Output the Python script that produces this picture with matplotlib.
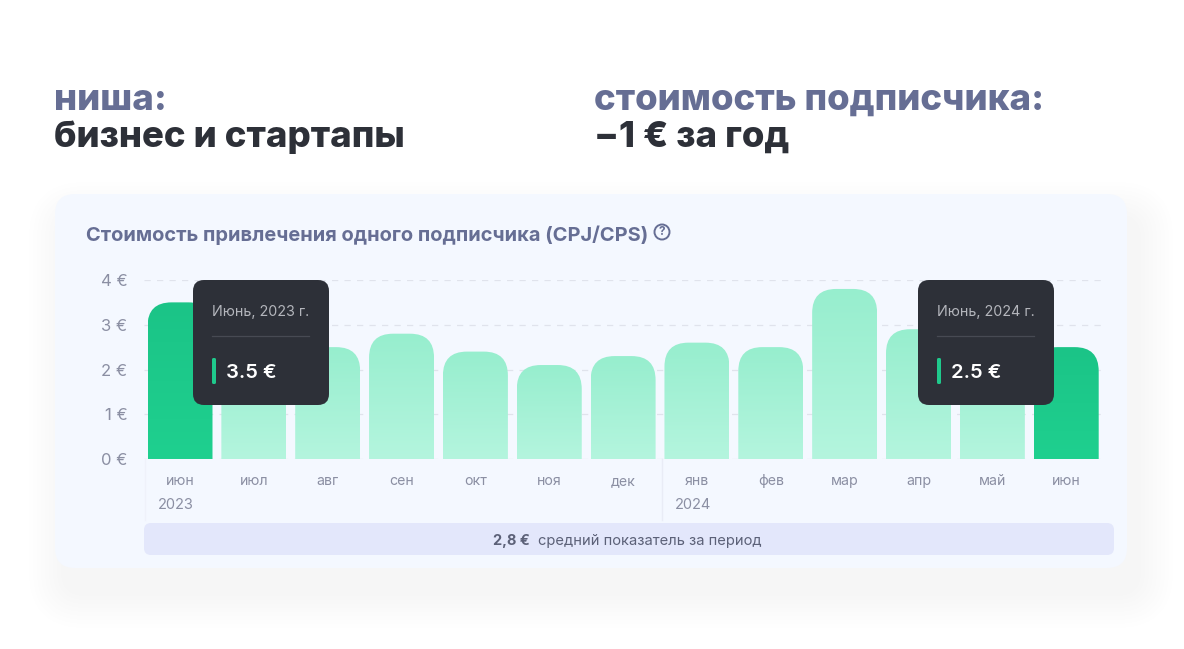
import numpy as np
import matplotlib
matplotlib.use('Agg')
import matplotlib.pyplot as plt
from matplotlib.colors import LinearSegmentedColormap
from matplotlib.patches import FancyBboxPatch, PathPatch, Circle
from matplotlib.path import Path

plt.rcParams['font.family'] = ['Inter', 'DejaVu Sans']

W, H = 1184, 649

months = ['июн', 'июл', 'авг', 'сен', 'окт', 'ноя', 'дек', 'янв', 'фев', 'мар', 'апр', 'май', 'июн']
values = [3.5, 2.5, 2.5, 2.8, 2.4, 2.1, 2.3, 2.6, 2.5, 3.8, 2.9, 2.5, 2.5]
selected = [0, 12]
y_ticks = [0, 1, 2, 3, 4]
y_labels = ['0 €', '1 €', '2 €', '3 €', '4 €']

light_bar = LinearSegmentedColormap.from_list('light_bar', ['#B4F5DE', '#97EECE'])
dark_bar = LinearSegmentedColormap.from_list('dark_bar', ['#1FD08F', '#1BC487'])
GREY = '#8B8FA3'
SLATE = '#666E94'


def rrect(ax, x0, y0, x1, y1, r, **kw):
    p = FancyBboxPatch((x0 + r, y0 + r), x1 - x0 - 2 * r, y1 - y0 - 2 * r,
                       boxstyle='round,pad=%f,rounding_size=%f' % (r, r), **kw)
    ax.add_patch(p)
    return p


def bar_path(x0, x1, top, rx, ry):
    verts = [(x0, 0), (x0, top - ry), (x0, top), (x0 + rx, top), (x1 - rx, top),
             (x1, top), (x1, top - ry), (x1, 0), (x0, 0)]
    codes = [Path.MOVETO, Path.LINETO, Path.CURVE3, Path.CURVE3, Path.LINETO,
             Path.CURVE3, Path.CURVE3, Path.LINETO, Path.CLOSEPOLY]
    return Path(verts, codes)


def tooltip(ax, x0, label, val):
    rrect(ax, x0, 280, x0 + 136, 405, 11, fc='#2D3038', ec='none')
    ax.text(x0 + 19, 312, label, color='#B4B6BC', fontsize=10.3, va='center')
    ax.plot([x0 + 19, x0 + 116], [336, 336], color='#474A53', lw=0.9)
    rrect(ax, x0 + 19, 358, x0 + 23, 384, 1.5, fc='#1FC98C', ec='none')
    ax.text(x0 + 33, 373, val, color='white', fontsize=14.5, fontweight='semibold', va='center')


fig = plt.figure(figsize=(W / 100, H / 100), dpi=100, facecolor='white')

# background layer in pixel coords
bg = fig.add_axes([0, 0, 1, 1], zorder=0)
bg.set_xlim(0, W)
bg.set_ylim(H, 0)
bg.axis('off')

for grow in range(36, 0, -4):
    rrect(bg, 55 - grow + 10, 194 - grow + 24, 1127 + grow + 10, 568 + grow + 24, 20 + grow,
          fc='#5A6A8C', ec='none', alpha=0.003)
rrect(bg, 55, 194, 1127, 568, 20, fc='#F4F8FF', ec='none')
rrect(bg, 144, 523, 1114, 555, 7, fc='#E3E7FB', ec='none')
bg.plot([144.5, 144.5], [459, 520], color='#EFF2FA', lw=1)
bg.plot([662, 662], [459, 520], color='#E9ECF6', lw=1)

bg.text(54, 100, 'ниша:', color=SLATE, fontsize=26.3, fontweight=800, va='center')
bg.text(54, 137, 'бизнес и стартапы', color='#2D3038', fontsize=26.3, fontweight=800, va='center')
bg.text(594, 100, 'стоимость подписчика:', color=SLATE, fontsize=26.3, fontweight=800, va='center')
bg.text(594, 137, '−1 € за год', color='#2D3038', fontsize=26.3, fontweight=800, va='center')

bg.text(86, 235, 'Стоимость привлечения одного подписчика (CPJ/CPS)', color=SLATE,
        fontsize=14.43, fontweight='bold', va='center')
bg.add_patch(Circle((662, 232), 7.5, fc='none', ec=SLATE, lw=1.4))
bg.text(662, 232, '?', color=SLATE, fontsize=8.5, fontweight='bold', ha='center', va='center')

bg.text(158, 505, '2023', color=GREY, fontsize=10.5, va='center')
bg.text(675, 505, '2024', color=GREY, fontsize=10.5, va='center')
bg.text(493, 541, '2,8 €', color='#5C6178', fontsize=10.5, fontweight='bold', va='center')
bg.text(538, 541, 'средний показатель за период', color='#5C6178', fontsize=10.6, va='center')

# chart: 0 at y=459, 4 at y=280
left, right = 144, 1105
ax = fig.add_axes([left / W, 1 - 459 / H, (right - left) / W, (459 - 280) / H], zorder=1)
ax.patch.set_alpha(0)
x = np.arange(len(values))
xlim = ((left - 180) / 73.85, (right - 180) / 73.85)
for s in ax.spines.values():
    s.set_visible(False)
ax.set_yticks(y_ticks, y_labels, color=GREY, fontsize=12)
ax.set_xticks(x, months, color=GREY, fontsize=10.2)
for lab in ax.get_xticklabels():
    lab.set_verticalalignment('baseline')
ax.tick_params(length=0)
ax.tick_params(axis='y', pad=12)
ax.tick_params(axis='x', pad=19)
ax.grid(axis='y', color='#E0E3EC', lw=0.9, ls=(0, (5, 5)))
ax.set_axisbelow(True)

grad = np.linspace(0, 1, 128).reshape(-1, 1)
for i, v in enumerate(values):
    x0, x1 = i - 0.44, i + 0.44
    cmap = dark_bar if i in selected else light_bar
    im = ax.imshow(grad, cmap=cmap, origin='lower', aspect='auto', extent=(x0, x1, 0, v), zorder=2)
    patch = PathPatch(bar_path(x0, x1, v, 24 / 73.85, 24 / 44.75), fc='none', ec='none',
                      transform=ax.transData)
    ax.add_patch(patch)
    im.set_clip_path(patch)
ax.set_xlim(*xlim)
ax.set_ylim(0, 4)

# tooltips on top
top = fig.add_axes([0, 0, 1, 1], zorder=2)
top.set_xlim(0, W)
top.set_ylim(H, 0)
top.axis('off')
tooltip(top, 193, 'Июнь, 2023 г.', '3.5 €')
tooltip(top, 918, 'Июнь, 2024 г.', '2.5 €')

fig.savefig('out.png', dpi=100)
